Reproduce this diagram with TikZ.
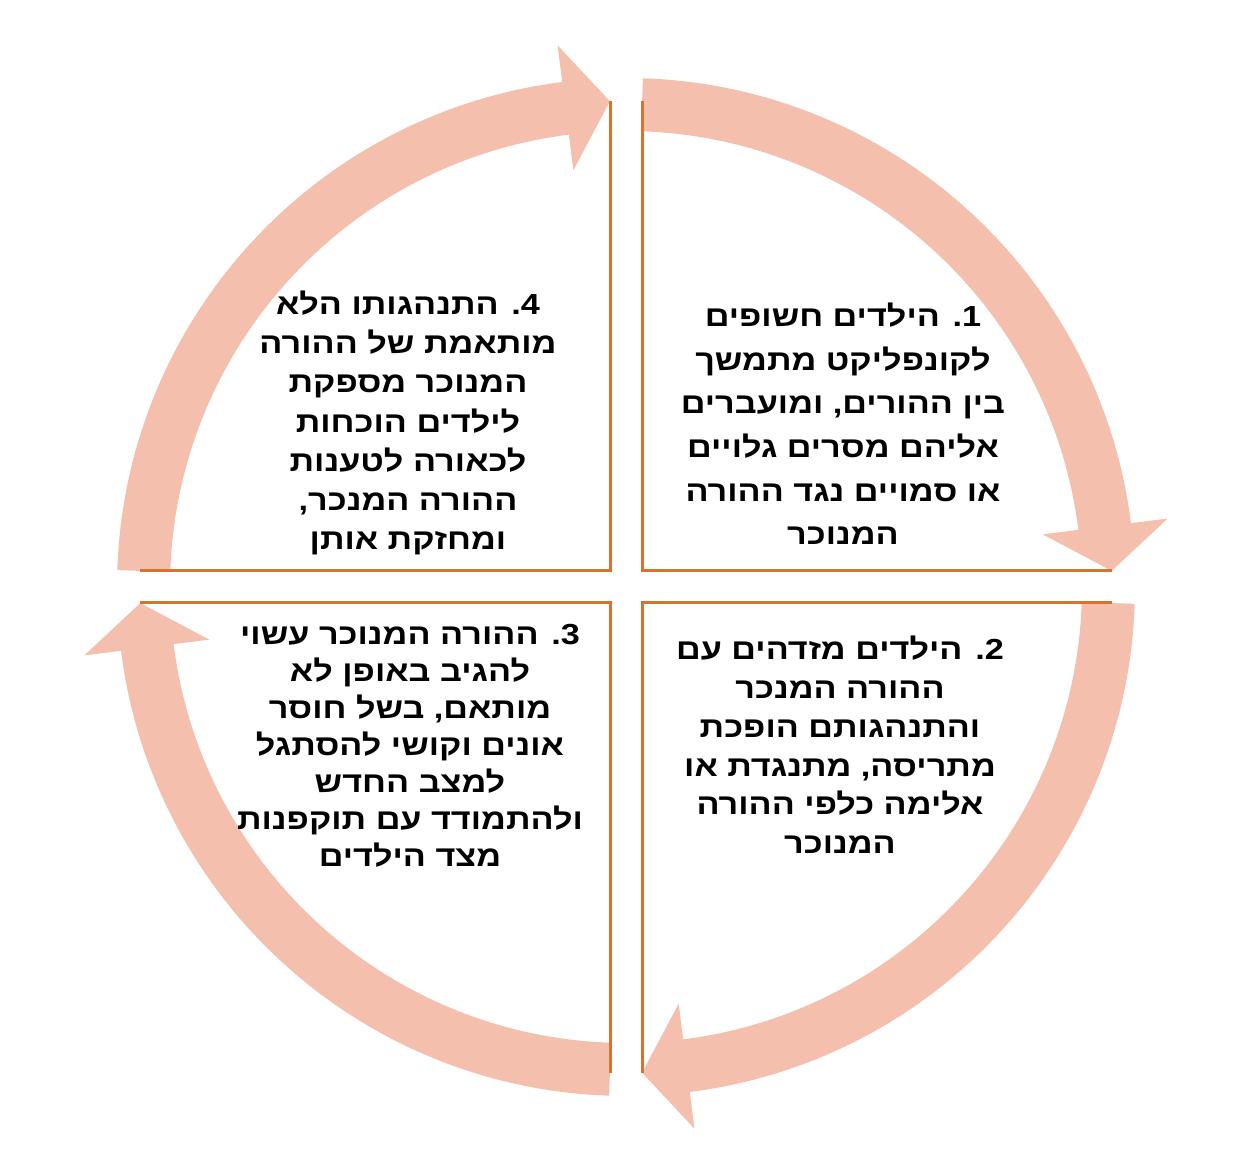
\documentclass[tikz,border=0pt]{standalone}
\usepackage{fontspec}
\newfontfamily\heb[Script=Hebrew, FakeStretch=1.18]{Liberation Sans}
\TeXXeTstate=1
\newcommand\hebline[1]{\beginR#1\endR}
\definecolor{arrowfill}{HTML}{F4BFAC}
\definecolor{boxline}{HTML}{D8722F}
\tikzset{
  cyclearrow/.style={fill=arrowfill, draw=none},
  boxedge/.style={draw=boxline, line width=3pt, line cap=butt, line join=miter},
  steptext/.style={align=center, text=black, font=\heb\bfseries\fontsize{29}{#1}\selectfont, inner sep=0pt},
}
\begin{document}
\begin{tikzpicture}[x=1pt,y=1pt]
\useasboundingbox (0,0) rectangle (1236,1161);
% arrows around the centre (626,574)
\begin{scope}[shift={(626,574)}]
  \def\Ra{509}\def\Rb{456}\def\Ho{546}\def\Hi{420}\def\Rt{486}
  % top-right: tail 88.1 -> base 7.2, tip 1.9
  \fill[cyclearrow] (88.1:\Ra) arc[start angle=88.1, end angle=7.2, radius=\Ra] -- (7.2:\Ho) -- (1.9:\Rt) -- (7.2:\Hi) -- (7.2:\Rb) arc[start angle=7.2, end angle=88.1, radius=\Rb] -- cycle;
  % bottom-right
  \fill[cyclearrow] (-1.9:\Ra) arc[start angle=-1.9, end angle=-82.8, radius=\Ra] -- (-82.8:\Ho) -- (-88.1:\Rt) -- (-82.8:\Hi) -- (-82.8:\Rb) arc[start angle=-82.8, end angle=-1.9, radius=\Rb] -- cycle;
  % bottom-left
  \fill[cyclearrow] (268.1:\Ra) arc[start angle=268.1, end angle=187.2, radius=\Ra] -- (187.2:\Ho) -- (181.9:\Rt) -- (187.2:\Hi) -- (187.2:\Rb) arc[start angle=187.2, end angle=268.1, radius=\Rb] -- cycle;
  % top-left
  \fill[cyclearrow] (178.1:\Ra) arc[start angle=178.1, end angle=97.2, radius=\Ra] -- (97.2:\Ho) -- (91.9:\Rt) -- (97.2:\Hi) -- (97.2:\Rb) arc[start angle=97.2, end angle=178.1, radius=\Rb] -- cycle;
\end{scope}
% quadrant box edges
\coordinate (tlA) at (610,1060); \coordinate (tlB) at (610,590); \coordinate (tlC) at (140,590);
\coordinate (trA) at (642,1060); \coordinate (trB) at (642,590); \coordinate (trC) at (1112,590);
\coordinate (brA) at (642,88);  \coordinate (brB) at (642,558); \coordinate (brC) at (1112,558);
\coordinate (blA) at (610,88);  \coordinate (blB) at (610,558); \coordinate (blC) at (140,558);
\draw[boxedge] (tlA) -- (tlB) -- (tlC);
\draw[boxedge] (trA) -- (trB) -- (trC);
\draw[boxedge] (brA) -- (brB) -- (brC);
\draw[boxedge] (blA) -- (blB) -- (blC);
% texts
\node[steptext=43.6] (s1) at (843,737) {\hebline{1. הילדים חשופים}\\\hebline{לקונפליקט מתמשך}\\\hebline{בין ההורים, ומועברים}\\\hebline{אליהם מסרים גלויים}\\\hebline{או סמויים נגד ההורה}\\\hebline{המנוכר}};
\node[steptext=38.8] (s2) at (840,416) {\hebline{2. הילדים מזדהים עם}\\\hebline{ההורה המנכר}\\\hebline{והתנהגותם הופכת}\\\hebline{מתריסה, מתנגדת או}\\\hebline{אלימה כלפי ההורה}\\\hebline{המנוכר}};
\node[steptext=37] (s3) at (410,415) {\hebline{3. ההורה המנוכר עשוי}\\\hebline{להגיב באופן לא}\\\hebline{מותאם, בשל חוסר}\\\hebline{אונים וקושי להסתגל}\\\hebline{למצב החדש}\\\hebline{ולהתמודד עם תוקפנות}\\\hebline{מצד הילדים}};
\node[steptext=39.2] (s4) at (408,738) {\hebline{4. התנהגותו הלא}\\\hebline{מותאמת של ההורה}\\\hebline{המנוכר מספקת}\\\hebline{לילדים הוכחות}\\\hebline{לכאורה לטענות}\\\hebline{ההורה המנכר,}\\\hebline{ומחזקת אותן}};
\end{tikzpicture}
\end{document}
